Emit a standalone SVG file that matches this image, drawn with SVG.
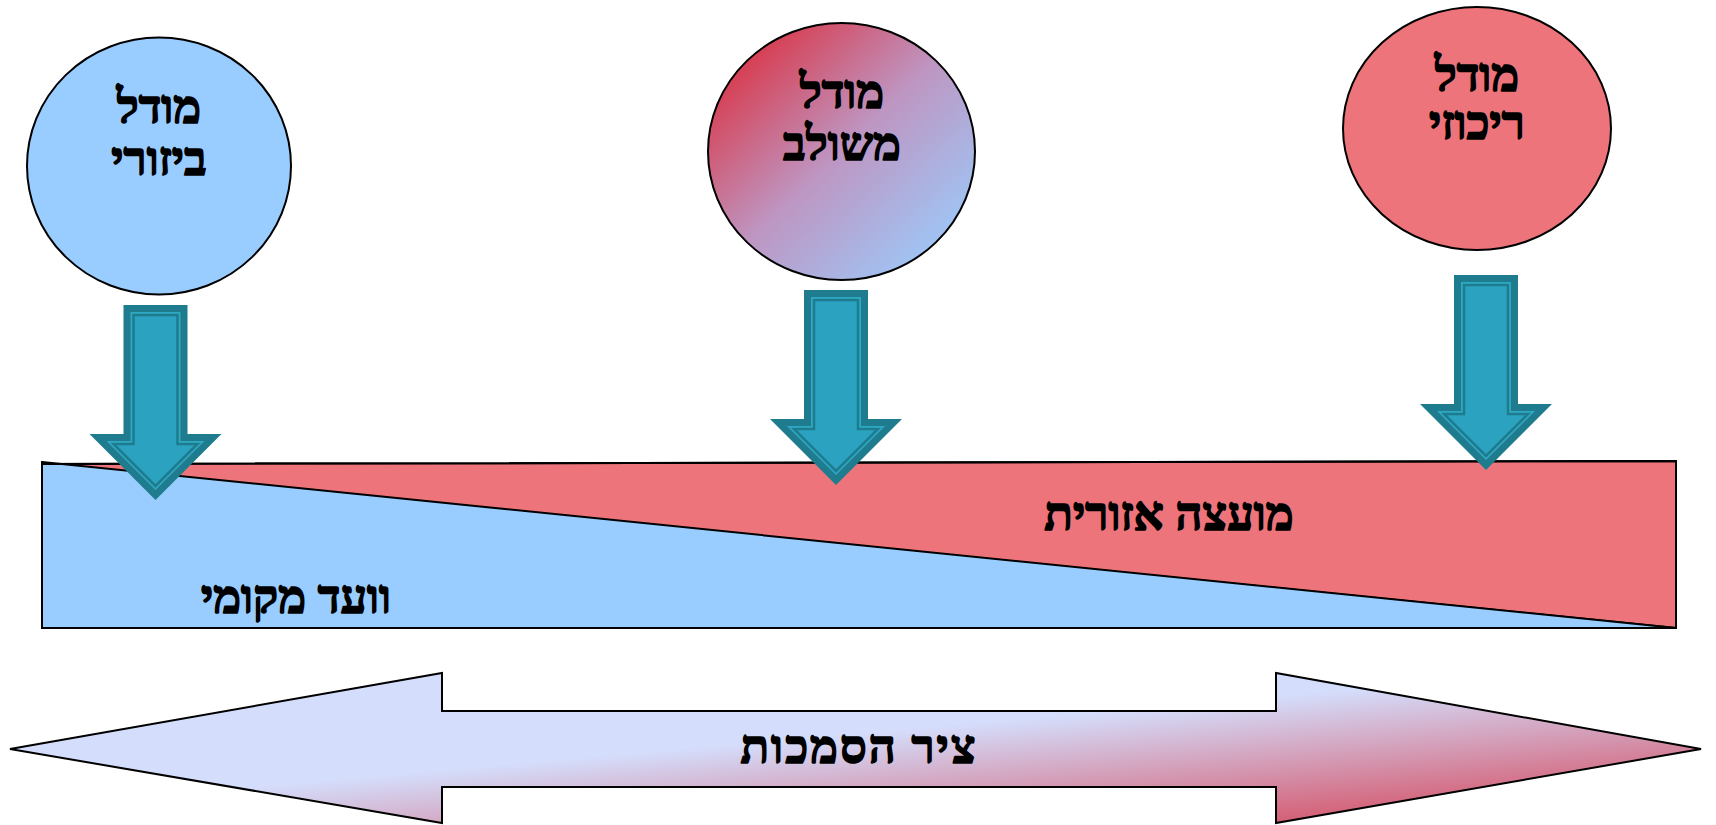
<svg xmlns="http://www.w3.org/2000/svg" width="1716" height="825" viewBox="0 0 1716 825">
<style>
  .lbl { font-family: "Liberation Serif", "DejaVu Sans", serif; font-weight: bold; font-size: 47px; fill: #000; stroke: #000; stroke-width: 1.6; stroke-linejoin: round; text-anchor: middle; }
  .circ { stroke: #000; stroke-width: 2; }
  .edge { stroke: #000; stroke-width: 2; stroke-linejoin: miter; }
</style>
<defs>
  <linearGradient id="gMix" x1="0" y1="0" x2="1" y2="1">
    <stop offset="0.1" stop-color="#DA3445"/>
    <stop offset="0.5" stop-color="#BE96C2"/>
    <stop offset="0.88" stop-color="#9EC6F6"/>
  </linearGradient>
  <linearGradient id="gAxis" x1="0" y1="0" x2="1" y2="1">
    <stop offset="0" stop-color="#D4DEFC"/>
    <stop offset="0.45" stop-color="#D4DEFC"/>
    <stop offset="1" stop-color="#D43A4E"/>
  </linearGradient>
  <g id="downArrow">
    <path d="M-32,0 H32 V129 H66 L0,195 L-66,129 H-32 Z" fill="#1F7B8E"/>
    <path d="M-25,7 H25 V136 H49 L0,185 L-49,136 H-25 Z" fill="#2FA8C4"/>
    <path d="M-22,10 H22 V139 H42 L0,181 L-42,139 H-22 Z" fill="#2BA2BF" stroke="#1F7B8E" stroke-width="2.5"/>
  </g>
</defs>
<rect width="1716" height="825" fill="#fff"/>

<g id="bar">
  <polygon class="edge" points="42,464 1676,461 1676,628" fill="#EC747A"/>
  <polygon class="edge" points="42,462 1676,628 42,628" fill="#99CCFF"/>
  <polyline points="42,464 1676,461 1676,628" fill="none" stroke="#000" stroke-width="2"/>
  <text class="lbl" x="1169" y="530">מועצה אזורית</text>
  <text class="lbl" x="296" y="613">וועד מקומי</text>
</g>

<g id="node-bizori">
  <ellipse class="circ" cx="159" cy="166" rx="132" ry="128.5" fill="#99CCFF"/>
  <text class="lbl" x="159" y="123">מודל</text>
  <text class="lbl" x="159" y="175">ביזורי</text>
</g>

<g id="node-meshulav">
  <ellipse class="circ" cx="841.5" cy="151.5" rx="133.5" ry="128.5" fill="url(#gMix)"/>
  <text class="lbl" x="842" y="108">מודל</text>
  <text class="lbl" x="842" y="160">משולב</text>
</g>

<g id="node-rikuzi">
  <ellipse class="circ" cx="1477" cy="128.5" rx="134" ry="121.5" fill="#EC747A"/>
  <text class="lbl" x="1477" y="91">מודל</text>
  <text class="lbl" x="1477" y="139">ריכוזי</text>
</g>

<g id="connectors">
  <use href="#downArrow" transform="translate(155.5,305)"/>
  <use href="#downArrow" transform="translate(836,290)"/>
  <use href="#downArrow" transform="translate(1486,275)"/>
</g>

<g id="axis">
  <polygon class="edge" points="10,749 442,673 442,711 1276,711 1276,673 1701,749 1276,823 1276,787 442,787 442,823" fill="url(#gAxis)"/>
  <text class="lbl" x="859" y="763" letter-spacing="2">ציר הסמכות</text>
</g>
</svg>
